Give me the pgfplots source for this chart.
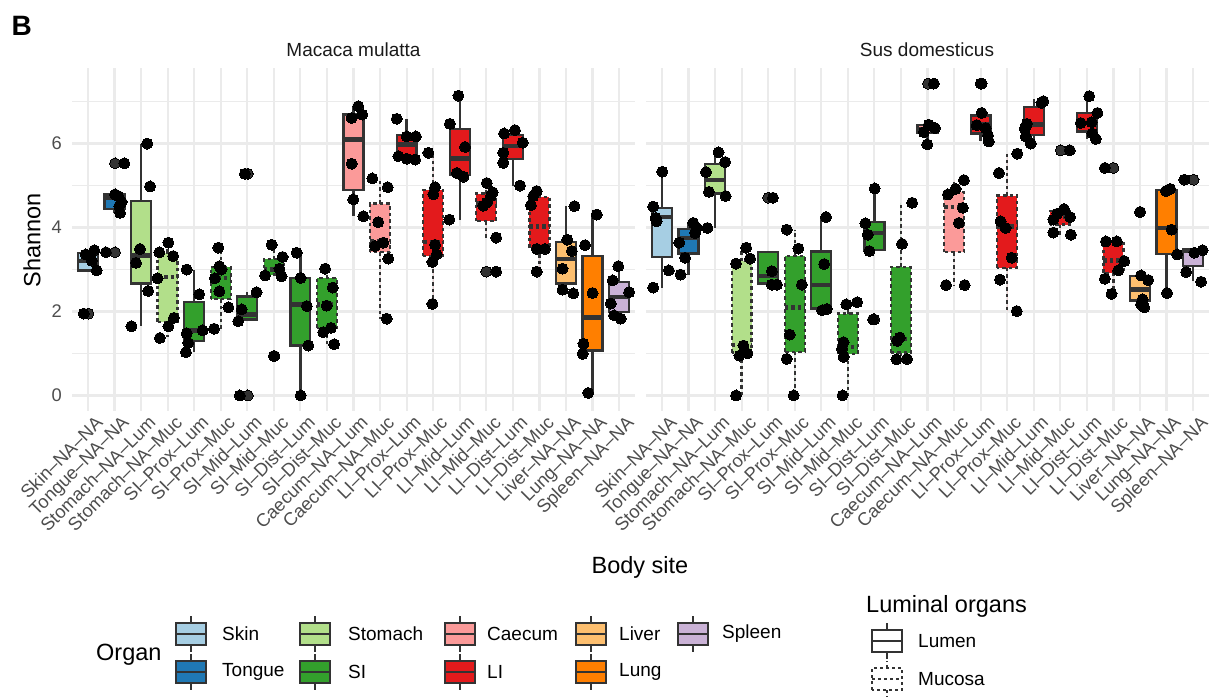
\documentclass[border=0pt]{standalone}
\usepackage{pgfplots}
\pgfplotsset{compat=1.18}
\usepgfplotslibrary{statistics}
\usepackage{fontspec}
\setmainfont{Liberation Sans}

% Paired palette, one colour per organ
\definecolor{skin}{HTML}{A6CEE3}
\definecolor{tongue}{HTML}{1F78B4}
\definecolor{stomach}{HTML}{B2DF8A}
\definecolor{si}{HTML}{33A02C}
\definecolor{caecum}{HTML}{FB9A99}
\definecolor{li}{HTML}{E31A1C}
\definecolor{liver}{HTML}{FDBF6F}
\definecolor{lung}{HTML}{FF7F00}
\definecolor{spleen}{HTML}{CAB2D6}
\definecolor{box20}{HTML}{333333}
\definecolor{grid92}{HTML}{EBEBEB}
\definecolor{gray30}{HTML}{4D4D4D}
\definecolor{gray10}{HTML}{1A1A1A}

\newcommand{\ticksize}{\fontsize{18.3}{20}\selectfont}
\newcommand{\labsize}{\fontsize{19}{22}\selectfont}
\newcommand{\titlesize}{\fontsize{23.5}{26}\selectfont}

% one box: position, lower whisker, Q1, median, Q3, upper whisker, fill, line style
\newcommand{\bx}[8]{%
  \addplot[bxs, fill=#7, #8, boxplot prepared={draw direction=y, draw position=#1,
    lower whisker=#2, lower quartile=#3, median=#4,
    upper quartile=#5, upper whisker=#6}] coordinates {};}

\pgfplotsset{
  bxs/.style={boxplot/box extend=0.75, boxplot/whisker extend=0,
    draw=box20, line width=2.3pt,
    boxplot/every median/.style={line width=4.5pt}},
  lum/.style={},
  muc/.style={dash pattern=on 3.5pt off 3pt},
  pts/.style={only marks, mark=*, mark size=5.5pt,
    mark options={fill=black, draw=none, line width=0pt}},
  outl/.style={only marks, mark=*, mark size=5.5pt,
    mark options={fill=box20, draw=none, line width=0pt}},
  facet/.style={
    anchor=south west, scale only axis, width=563pt, height=343pt,
    xmin=-0.6, xmax=20.6, ymin=-0.37, ymax=7.8,
    axis line style={draw=none}, major tick length=0pt, minor tick length=0pt,
    xtick={0,...,20},
    xticklabels={Skin–NA–NA, Tongue–NA–NA, Stomach–NA–Lum, Stomach–NA–Muc,
      SI–Prox–Lum, SI–Prox–Muc, SI–Mid–Lum, SI–Mid–Muc, SI–Dist–Lum, SI–Dist–Muc,
      Caecum–NA–Lum, Caecum–NA–Muc, LI–Prox–Lum, LI–Prox–Muc, LI–Mid–Lum,
      LI–Mid–Muc, LI–Dist–Lum, LI–Dist–Muc, Liver–NA–NA, Lung–NA–NA, Spleen–NA–NA},
    xticklabel style={rotate=45, anchor=north east, font=\ticksize, text=gray30,
      inner sep=0pt, xshift=2pt, yshift=-7pt},
    ytick={0,2,4,6}, minor ytick={1,3,5,7},
    yticklabel style={font=\ticksize, text=gray30, inner sep=0pt, xshift=-10pt},
    /pgf/number format/assume math mode=true,
    grid=both,
    major grid style={draw=grid92, line width=2.2pt},
    minor grid style={draw=grid92, line width=1.1pt},
  },
}

\begin{document}
\begin{tikzpicture}
\useasboundingbox (0,0) rectangle (1211pt,697pt);

% ---------------- Macaca mulatta ----------------
\begin{axis}[facet, at={(72pt,286pt)}]
\bx{0}{2.98}{2.98}{3.20}{3.40}{3.46}{skin}{lum}
\bx{1}{4.35}{4.44}{4.70}{4.79}{4.79}{tongue}{lum}
\bx{2}{1.65}{2.67}{3.33}{4.63}{6.00}{stomach}{lum}
\bx{3}{1.40}{1.75}{2.82}{3.40}{3.64}{stomach}{muc}
\bx{4}{1.03}{1.29}{1.55}{2.22}{3.00}{si}{lum}
\bx{5}{1.59}{2.29}{2.80}{3.06}{3.52}{si}{muc}
\bx{6}{1.77}{1.81}{1.93}{2.36}{2.46}{si}{lum}
\bx{7}{2.84}{2.88}{3.00}{3.25}{3.59}{si}{muc}
\bx{8}{0.00}{1.19}{2.17}{2.80}{3.40}{si}{lum}
\bx{9}{1.22}{1.61}{2.17}{2.79}{3.02}{si}{muc}
\bx{10}{4.27}{4.90}{6.10}{6.69}{6.89}{caecum}{lum}
\bx{11}{1.83}{3.41}{3.67}{4.57}{5.17}{caecum}{muc}
\bx{12}{5.62}{5.70}{5.98}{6.21}{6.59}{li}{lum}
\bx{13}{2.18}{3.32}{3.65}{4.89}{5.78}{li}{muc}
\bx{14}{4.19}{5.25}{5.64}{6.35}{7.14}{li}{lum}
\bx{15}{3.76}{4.15}{4.59}{4.81}{5.06}{li}{muc}
\bx{16}{5.00}{5.64}{5.94}{6.21}{6.32}{li}{lum}
\bx{17}{2.95}{3.52}{4.03}{4.73}{4.87}{li}{muc}
\bx{18}{2.43}{2.67}{3.25}{3.66}{4.51}{liver}{lum}
\bx{19}{0.06}{1.07}{1.86}{3.32}{4.31}{lung}{lum}
\bx{20}{1.83}{1.99}{2.35}{2.70}{3.08}{spleen}{lum}
% outliers
\addplot[outl] coordinates {(0.02,1.95) (1.02,5.53) (1.02,3.41) (6.02,5.28)
  (6.02,0) (7.0,0.94) (15.0,2.95)};
% samples
\addplot[pts] coordinates {
 (-0.08,3.36) (0.24,3.46) (0.14,3.21) (0.33,2.98) (-0.16,1.95)
 (1.37,5.53) (1.02,4.79) (1.14,4.75) (1.27,4.61) (1.18,4.51) (1.21,4.35) (0.68,3.41)
 (2.23,6.00) (2.34,4.98) (1.96,3.49) (1.81,3.16) (2.27,2.49) (1.64,1.65)
 (3.03,3.64) (2.69,3.41) (3.21,3.32) (2.62,2.79) (3.24,1.85) (3.03,1.65) (2.71,1.37)
 (3.72,3.00) (4.19,2.41) (4.32,1.55) (3.72,1.48) (3.78,1.25) (3.69,1.03)
 (4.91,3.52) (4.95,3.08) (5.03,3.00) (4.78,2.79) (4.95,2.48) (5.29,2.10) (4.75,1.59)
 (6.35,2.46) (5.79,2.05) (5.66,1.77) (5.91,5.28) (5.72,0)
 (6.92,3.59) (7.33,3.30) (7.21,3.02) (6.67,2.86) (7.29,2.84) (7.02,0.94)
 (7.86,3.40) (8.01,2.80) (8.24,2.13) (8.30,1.19) (8.01,0)
 (8.93,3.02) (9.22,2.57) (8.99,2.14) (9.15,1.61) (8.86,1.51) (9.27,1.22)
 (10.18,6.89) (10.33,6.69) (9.93,6.61) (9.93,5.52) (9.99,4.67) (10.37,4.27)
 (10.71,5.17) (11.29,4.96) (10.93,4.13) (11.12,3.64) (10.81,3.56) (11.31,3.26) (11.25,1.83)
 (11.63,6.59) (12.0,6.17) (12.35,6.17) (11.69,5.70) (12.0,5.64) (12.32,5.62)
 (12.82,5.78) (13.07,4.96) (13.01,4.79) (13.07,3.59) (13.13,3.36) (12.97,3.18) (12.97,2.18)
 (13.95,7.14) (13.63,6.47) (14.20,5.92) (13.89,5.30) (14.14,5.21) (13.61,4.19)
 (15.02,5.06) (15.24,4.84) (15.17,4.75) (15.02,4.59) (14.89,4.52) (15.37,3.76) (15.37,2.95)
 (15.67,6.24) (16.08,6.32) (16.37,6.02) (15.64,5.78) (15.64,5.54) (16.27,5.00)
 (16.90,4.87) (16.77,4.75) (16.68,4.53) (16.90,3.49) (17.21,3.49) (16.90,2.95)
 (18.32,4.51) (18.05,3.71) (18.22,3.44) (17.87,3.02) (17.87,2.52) (18.28,2.43)
 (19.16,4.31) (18.72,3.58) (19.0,2.44) (18.66,1.23) (18.63,0.99) (18.84,0.06)
 (19.97,3.08) (19.76,2.74) (20.38,2.46) (19.69,2.19) (19.81,1.91) (20.06,1.83)
};
\end{axis}

% ---------------- Sus domesticus ----------------
\begin{axis}[facet, at={(646pt,286pt)}, yticklabels={}]
\bx{0}{2.57}{3.29}{4.25}{4.47}{5.33}{skin}{lum}
\bx{1}{2.88}{3.38}{3.75}{3.97}{4.11}{tongue}{lum}
\bx{2}{3.99}{4.81}{5.13}{5.52}{5.79}{stomach}{lum}
\bx{3}{0.00}{1.02}{1.20}{3.20}{3.52}{stomach}{muc}
\bx{4}{2.64}{2.67}{2.84}{3.41}{3.41}{si}{lum}
\bx{5}{0.00}{1.04}{2.09}{3.32}{3.95}{si}{muc}
\bx{6}{2.03}{2.07}{2.63}{3.43}{4.25}{si}{lum}
\bx{7}{0.00}{0.98}{1.15}{1.95}{2.22}{si}{muc}
\bx{8}{3.44}{3.46}{3.87}{4.13}{4.93}{si}{lum}
\bx{9}{0.86}{1.02}{1.34}{3.06}{4.59}{si}{muc}
\bx{10}{5.98}{6.25}{6.35}{6.45}{6.45}{caecum}{lum}
\bx{11}{2.63}{3.41}{4.49}{4.84}{5.14}{caecum}{muc}
\bx{12}{6.05}{6.24}{6.45}{6.67}{6.73}{li}{lum}
\bx{13}{2.01}{3.04}{4.03}{4.76}{5.76}{li}{muc}
\bx{14}{6.00}{6.21}{6.45}{6.87}{7.05}{li}{lum}
\bx{15}{3.83}{4.07}{4.25}{4.39}{4.44}{li}{muc}
\bx{16}{6.11}{6.29}{6.49}{6.73}{7.13}{li}{lum}
\bx{17}{2.42}{2.92}{3.22}{3.67}{3.67}{li}{muc}
\bx{18}{2.10}{2.26}{2.52}{2.84}{2.86}{liver}{lum}
\bx{19}{2.44}{3.37}{3.99}{4.90}{4.92}{lung}{lum}
\bx{20}{2.72}{3.08}{3.44}{3.49}{3.49}{spleen}{lum}
% outliers
\addplot[outl] coordinates {(4.0,4.71) (8.0,1.81) (10.02,7.43) (12.0,7.43)
  (15.02,5.84) (17.0,5.42) (18.0,4.37) (20.02,5.14)};
% samples
\addplot[pts] coordinates {
 (0.01,5.33) (-0.33,4.50) (-0.24,4.23) (-0.20,4.15) (0.26,2.98) (-0.33,2.57)
 (1.18,4.11) (1.31,3.99) (1.25,3.87) (0.65,3.64) (0.87,3.28) (0.70,2.88)
 (2.13,5.79) (2.38,5.56) (1.66,5.32) (1.77,4.85) (2.40,4.75) (1.71,3.99)
 (3.17,3.52) (3.32,3.26) (2.79,3.14) (3.07,1.19) (3.22,1.00) (2.92,0.95) (2.79,0)
 (4.14,2.96) (4.14,2.64) (4.33,2.64) (4.18,4.71)
 (4.70,3.95) (5.14,3.50) (5.27,2.64) (4.81,1.45) (4.70,0.87) (4.96,0)
 (6.18,4.25) (6.11,3.13) (6.03,2.03) (6.21,2.06)
 (6.94,2.17) (7.35,2.22) (6.84,1.27) (6.78,1.11) (6.84,0.92) (6.80,0)
 (8.01,4.93) (7.66,4.10) (7.75,3.83) (7.81,3.44) (7.95,1.81)
 (9.42,4.59) (9.04,3.61) (8.96,1.38) (8.86,1.30) (8.83,0.86) (9.23,0.87)
 (10.24,7.43) (10.05,6.45) (10.28,6.37) (9.86,6.27) (9.99,5.98)
 (11.37,5.13) (11.06,4.92) (10.77,4.79) (11.33,4.47) (11.18,4.11) (10.70,2.63) (11.40,2.63)
 (12.04,7.43) (12.04,6.73) (11.85,6.44) (12.19,6.37) (12.28,6.19) (12.31,6.05)
 (13.38,5.76) (12.69,5.30) (12.75,4.15) (12.94,3.99) (13.17,3.28) (12.73,2.76) (13.36,2.01)
 (14.36,7.01) (14.29,6.97) (13.74,6.47) (13.66,6.35) (13.70,6.17) (13.89,6.00)
 (15.36,5.84) (15.14,4.44) (14.89,4.33) (15.37,4.25) (14.74,4.19) (14.74,3.88) (15.40,3.83)
 (16.09,7.13) (16.40,6.73) (15.77,6.49) (16.18,6.51) (16.21,6.24) (16.34,6.11)
 (16.68,5.42) (16.72,3.67) (17.13,3.67) (17.41,3.20) (17.18,2.98) (16.68,2.78) (16.93,2.42)
 (18.01,4.37) (18.04,2.86) (18.31,2.75) (18.10,2.29) (18.04,2.17) (18.16,2.10)
 (18.98,4.87) (19.14,4.92) (19.19,3.95) (19.40,3.36) (19.02,2.44)
 (19.67,5.14) (20.05,3.40) (20.36,3.46) (19.74,2.94) (20.30,2.71)
};
\end{axis}

% titles and labels
\node[font=\bfseries\fontsize{28}{30}\selectfont, anchor=west] at (8pt,671pt) {B};
\node[font=\labsize, text=gray10] at (353.5pt,647pt) {Macaca mulatta};
\node[font=\labsize, text=gray10] at (927pt,647pt) {Sus domesticus};
\node[font=\titlesize, rotate=90] at (32pt,457pt) {Shannon};
\node[font=\titlesize] at (640pt,130pt) {Body site};

% legend: organ fill
\newcommand{\lkey}[4]{%
  \begin{scope}[shift={(#1pt,#2pt)}, line width=1.8pt, draw=box20]
    \draw[box20, #4] (0,11pt) -- (0,18pt) (0,-11pt) -- (0,-18pt);
    \draw[box20, fill=#3, #4] (-15pt,-11pt) rectangle (15pt,11pt);
    \draw[box20, #4] (-15pt,0) -- (15pt,0);
  \end{scope}}
\node[font=\titlesize, anchor=west, inner sep=0pt] at (96pt,42pt) {Organ};
\lkey{191}{63}{skin}{}
\lkey{191}{25}{tongue}{}
\lkey{315}{63}{stomach}{}
\lkey{315}{25}{si}{}
\lkey{460}{63}{caecum}{}
\lkey{460}{25}{li}{}
\lkey{591}{63}{liver}{}
\lkey{591}{25}{lung}{}
\lkey{693}{63}{spleen}{}
\begin{scope}[every node/.style={font=\labsize, anchor=west, inner sep=0pt}]
  \node at (222pt,63pt) {Skin};
  \node at (222pt,25pt) {Tongue};
  \node at (348pt,63pt) {Stomach};
  \node at (348pt,25pt) {SI};
  \node at (487pt,63pt) {Caecum};
  \node at (487pt,25pt) {LI};
  \node at (619pt,63pt) {Liver};
  \node at (619pt,25pt) {Lung};
  \node at (722pt,63pt) {Spleen};
\end{scope}

% legend: luminal organs
\node[font=\titlesize, anchor=west, inner sep=0pt] at (866pt,91pt) {Luminal organs};
\lkey{887}{56}{white}{}
\lkey{887}{18}{white}{dash pattern=on 3pt off 3pt}
\node[font=\labsize, anchor=west, inner sep=0pt] at (918pt,56pt) {Lumen};
\node[font=\labsize, anchor=west, inner sep=0pt] at (918pt,18pt) {Mucosa};
\end{tikzpicture}
\end{document}
